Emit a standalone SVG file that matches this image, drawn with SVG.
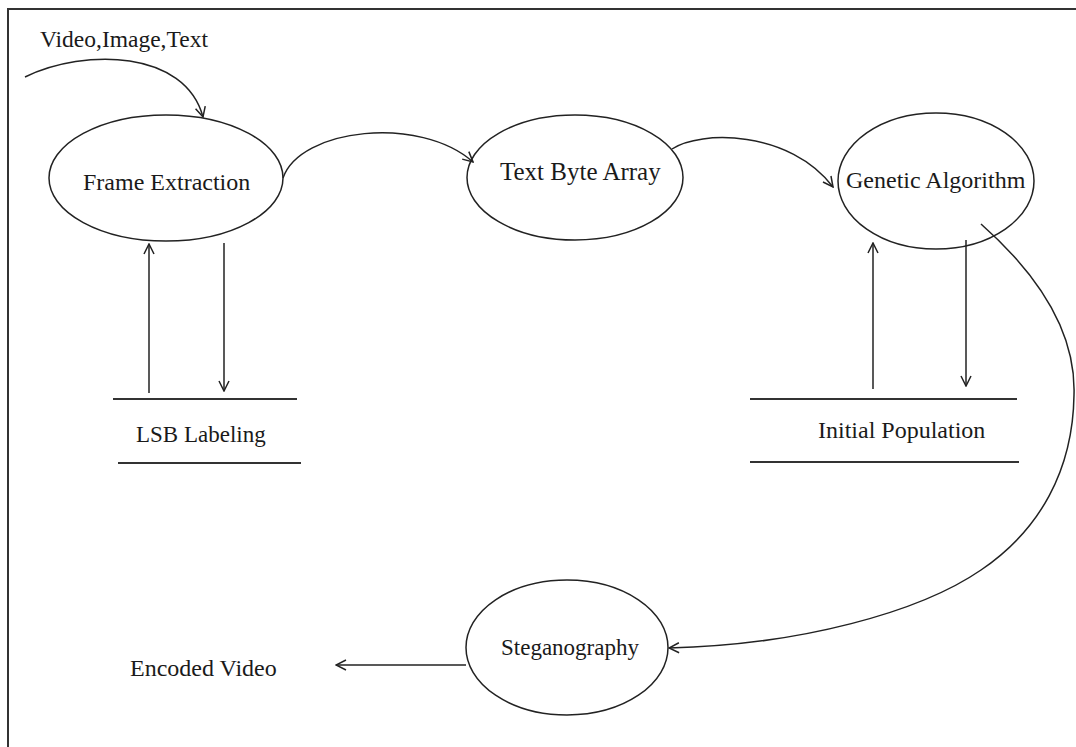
<svg xmlns="http://www.w3.org/2000/svg" width="1076" height="747" viewBox="0 0 1076 747">
  <style>
    .shape { fill: none; stroke: #222; stroke-width: 1.5; }
    .store { fill: none; stroke: #333; stroke-width: 1.8; }
    .edge { fill: none; stroke: #222; stroke-width: 1.5; }
    .label { font-family: "Liberation Serif", "Times New Roman", serif; font-size: 24px; fill: #1a1a1a; }
  </style>
  <defs>
    <marker id="arrow" viewBox="0 0 12 12" refX="11" refY="6" markerWidth="12" markerHeight="12" markerUnits="userSpaceOnUse" orient="auto">
      <path d="M1,1 L11,6 L1,11" fill="none" stroke="#222" stroke-width="1.5"/>
    </marker>
  </defs>

  <rect width="1076" height="747" fill="#fff"/>
  <!-- page frame (left and top edges) -->
  <path d="M8,747 V9 H1076" fill="none" stroke="#333" stroke-width="2"/>

  <g id="input">
    <text class="label" x="40" y="47" style="font-size:23.5px">Video,Image,Text</text>
  </g>

  <g id="frame-extraction">
    <ellipse class="shape" cx="166" cy="178" rx="117" ry="63"/>
    <text class="label" x="83" y="190">Frame Extraction</text>
  </g>

  <g id="text-byte-array">
    <ellipse class="shape" cx="575" cy="177.5" rx="108" ry="62.5"/>
    <text class="label" x="500" y="180" style="font-size:25px">Text Byte Array</text>
  </g>

  <g id="genetic-algorithm">
    <ellipse class="shape" cx="936" cy="181" rx="98" ry="68"/>
    <text class="label" x="846" y="188">Genetic Algorithm</text>
  </g>

  <g id="lsb-labeling">
    <line class="store" x1="113" y1="399" x2="297" y2="399"/>
    <line class="store" x1="118" y1="463" x2="301" y2="463"/>
    <text class="label" x="136" y="442" style="font-size:23px">LSB Labeling</text>
  </g>

  <g id="initial-population">
    <line class="store" x1="750" y1="399" x2="1017" y2="399"/>
    <line class="store" x1="750" y1="462" x2="1019" y2="462"/>
    <text class="label" x="818" y="438">Initial Population</text>
  </g>

  <g id="steganography">
    <ellipse class="shape" cx="567" cy="647.5" rx="101" ry="67.5"/>
    <text class="label" x="501" y="655" style="font-size:23px">Steganography</text>
  </g>

  <g id="encoded-video">
    <text class="label" x="130" y="676">Encoded Video</text>
  </g>

  <g id="connectors">
    <path class="edge" d="M25,77 C85,48 185,50 203,117" marker-end="url(#arrow)"/>
    <path class="edge" d="M283,178 C300,128 420,115 473,162" marker-end="url(#arrow)"/>
    <path class="edge" d="M672,149 C700,130 790,130 833,187" marker-end="url(#arrow)"/>
    <line class="edge" x1="149" y1="393" x2="149" y2="244" marker-end="url(#arrow)"/>
    <line class="edge" x1="224" y1="243" x2="224" y2="391" marker-end="url(#arrow)"/>
    <line class="edge" x1="873" y1="389" x2="873" y2="243" marker-end="url(#arrow)"/>
    <line class="edge" x1="966" y1="240" x2="966" y2="386" marker-end="url(#arrow)"/>
    <path class="edge" d="M981,224 C1042,278 1076,335 1074,395 C1073,470 1040,530 981,570 C920,612 800,645 669,648" marker-end="url(#arrow)"/>
    <line class="edge" x1="466" y1="665" x2="336" y2="665" marker-end="url(#arrow)"/>
  </g>
</svg>
